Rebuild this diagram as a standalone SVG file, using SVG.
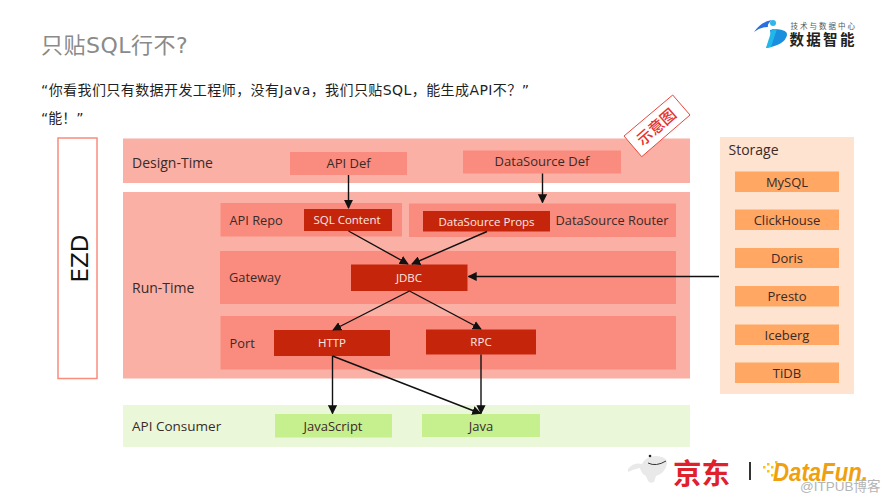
<svg xmlns="http://www.w3.org/2000/svg" width="890" height="501" viewBox="0 0 890 501">
<style>
text{font-family:"Open Sans","Noto Sans CJK SC",sans-serif;font-size:13px;fill:#3a2a28;text-anchor:middle}
.h{font-family:"DejaVu Sans","Noto Sans CJK SC",sans-serif;text-anchor:start;fill:#1f1f1f;font-size:14px;letter-spacing:.42px}
.l{text-anchor:start;font-size:14px}
.m{text-anchor:start;font-size:12.800px}
.w{fill:#fbe9e4;font-size:11.500px}
.o1{fill:#fab0a5}.o2{fill:#f98c7e}.d{fill:#c5260b}
.s{fill:#ffa763}.g{fill:#c6ef8e}
.c{fill:none;stroke:#111;stroke-width:1.4;marker-end:url(#a)}
</style>
<defs><marker id="a" viewBox="0 0 10 10" refX="9" refY="5" markerWidth="6.500" markerHeight="6.500" orient="auto"><path d="M0 0L10 5L0 10Z" fill="#111"/></marker></defs>
<rect width="890" height="501" fill="#fff"/>
<text class="h" x="41" y="53" style="font-size:22px;fill:#8a8a8a;letter-spacing:.5px">只贴SQL行不?</text>
<text class="h" x="41" y="95">“你看我们只有数据开发工程师，没有Java，我们只贴SQL，能生成API不？”</text>
<text class="h" x="41" y="123" style="letter-spacing:0">“能！”</text>
<g id="ezd"><rect x="58" y="138" width="39" height="240.500" fill="#fff" stroke="#f98c7e" stroke-width="1.500"/><text transform="translate(88 258.500) rotate(-90)" style="font-family:'DejaVu Sans',sans-serif;font-size:23px;fill:#111">EZD</text></g>
<g id="design-time"><rect class="o1" x="123" y="138.500" width="567" height="44.500"/><text class="l" x="132" y="168">Design-Time</text></g>
<g id="run-time"><rect class="o1" x="123" y="192" width="567" height="186.500"/><text class="l" x="132" y="293">Run-Time</text></g>
<g id="api-consumer"><rect x="123" y="405" width="567" height="42" fill="#eaf8d9"/><text class="l" x="132" y="431" style="font-size:13.500px">API Consumer</text></g>
<g id="api-def"><rect class="o2" x="290" y="152" width="117" height="23"/><text x="348.500" y="168">API Def</text></g>
<g id="datasource-def"><rect class="o2" x="463" y="150.500" width="158" height="23"/><text x="542" y="166">DataSource Def</text></g>
<g id="api-repo"><rect class="o2" x="220.500" y="203" width="181.500" height="33.500"/><text class="m" x="229.500" y="225">API Repo</text></g>
<g id="sql-content"><rect class="d" x="304" y="209" width="88" height="22"/><text class="w" x="347" y="224">SQL Content</text></g>
<g id="datasource-router"><rect class="o2" x="409" y="203.500" width="267" height="33.500"/><text class="m" x="555.500" y="225">DataSource Router</text></g>
<g id="datasource-props"><rect class="d" x="423" y="211" width="127" height="20.500"/><text class="w" x="486.500" y="226">DataSource Props</text></g>
<g id="gateway"><rect class="o2" x="220" y="251" width="456" height="53"/><text class="m" x="229" y="282">Gateway</text></g>
<g id="jdbc"><rect class="d" x="351" y="264.500" width="116.500" height="26.500"/><text class="w" x="409" y="282">JDBC</text></g>
<g id="port"><rect class="o2" x="220.500" y="316" width="455.500" height="53.500"/><text class="m" x="229.500" y="348">Port</text></g>
<g id="http"><rect class="d" x="274" y="330" width="116" height="26"/><text class="w" x="332" y="347">HTTP</text></g>
<g id="rpc"><rect class="d" x="426" y="329.500" width="110" height="25"/><text class="w" x="481" y="346">RPC</text></g>
<g id="javascript"><rect class="g" x="275" y="414" width="117" height="23.500"/><text x="333" y="431">JavaScript</text></g>
<g id="java"><rect class="g" x="422" y="414" width="118" height="23"/><text x="481" y="431">Java</text></g>
<g id="storage"><rect x="720" y="137" width="134" height="257" fill="#fde3d0"/><text class="l" x="728.500" y="155">Storage</text></g>
<g id="mysql"><rect class="s" x="735" y="171.500" width="104" height="20.500"/><text x="787" y="186.500">MySQL</text></g>
<g id="clickhouse"><rect class="s" x="735" y="209.500" width="104" height="20.500"/><text x="787" y="224.500">ClickHouse</text></g>
<g id="doris"><rect class="s" x="735" y="248" width="104" height="20"/><text x="787" y="262.500">Doris</text></g>
<g id="presto"><rect class="s" x="735" y="286" width="104" height="20.500"/><text x="787" y="301">Presto</text></g>
<g id="iceberg"><rect class="s" x="735" y="324.500" width="104" height="20.500"/><text x="787" y="339.500">Iceberg</text></g>
<g id="tidb"><rect class="s" x="735" y="362.500" width="104" height="20.500"/><text x="787" y="377.500">TiDB</text></g>
<g id="connectors">
<path class="c" d="M348.500 175V208"/>
<path class="c" d="M542.500 173.500V202.500"/>
<path class="c" d="M348.500 231L408 264"/>
<path class="c" d="M487 231.500L412 264"/>
<path class="c" d="M719 276.500H468.500"/>
<path class="c" d="M409.500 291L333 330"/>
<path class="c" d="M409.500 291L481 329"/>
<path class="c" d="M332.500 356V413.500"/>
<path class="c" d="M332.500 356L480.500 413.500"/>
<path class="c" d="M481 354.500V413.500"/>
</g>
<g id="stamp"><polygon points="672.700,95 690,115 641.700,156.700 624,136" fill="#fff" stroke="#e8453c" stroke-width="1"/><text transform="translate(660 131) rotate(-41)" style="font-family:'Noto Sans CJK SC',sans-serif;font-size:15.500px;font-weight:500;fill:#e8312c">示意图</text></g>
<g id="logo-top"><path d="M754 32Q762 21 772 20Q767 24 768 27Q760 27 754 32Z" fill="#2a6fe0"/><path d="M770 30L776 29Q788 30 787 35Q785 45 766 48L771 37Z" fill="#1a8fe0"/><path d="M766 48L772 29L777 29L771 47Z" fill="#20b8e8"/><circle cx="773" cy="23" r="3" fill="#2fb7ea"/>
<text class="l" x="790.500" y="28.500" style="font-size:7.500px;letter-spacing:2px;fill:#555;font-family:'Noto Sans CJK SC',sans-serif">技术与数据中心</text>
<text class="l" x="789.500" y="45" style="font-size:14.500px;letter-spacing:2.300px;font-weight:700;fill:#222;font-family:'Noto Sans CJK SC',sans-serif">数据智能</text></g>
<g id="logo-jd"><path d="M628 469Q634 462 642 464Q646 456 656 456Q668 457 667 464Q665 473 656 476L654 482Q650 484 648 481L646 476Q641 473 640 468Q634 469 628 472Z" fill="#e9e9e9"/><circle cx="650" cy="456" r="1.300" fill="#222"/><path d="M648 463Q656 467 666 461" fill="none" stroke="#333" stroke-width="1"/><text class="l" x="673" y="484" style="font-size:28.500px;font-weight:700;fill:#e0202a;font-family:'Noto Sans CJK SC',sans-serif">京东</text></g>
<rect x="749" y="462" width="2" height="18" fill="#333"/>
<g id="logo-datafun"><g fill="#f5c518"><rect x="763" y="466" width="2.500" height="2.500"/><rect x="767" y="463" width="2.500" height="2.500"/><rect x="767" y="470" width="2.500" height="2.500"/><rect x="771" y="466" width="2.500" height="2.500"/><rect x="771" y="474" width="2.500" height="2.500"/><rect x="775" y="461" width="2.500" height="2.500"/></g><text class="l" x="773" y="481" textLength="95" lengthAdjust="spacingAndGlyphs" style="font-family:'Liberation Sans',sans-serif;font-style:italic;font-weight:700;font-size:26px;fill:#f0a00f">DataFun.</text></g>
<text class="l" x="800" y="491" style="font-family:'Liberation Sans','Noto Sans CJK SC',sans-serif;font-size:13.500px;fill:#b5b5b5">@ITPUB博客</text>
</svg>
